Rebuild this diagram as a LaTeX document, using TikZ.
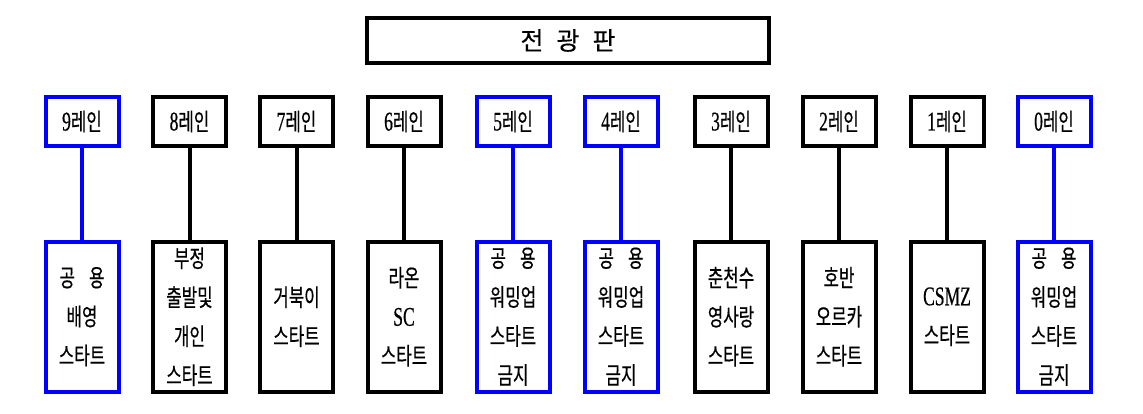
\documentclass[tikz,border=0pt]{standalone}
\usepackage{fontspec}
\newfontfamily\krf{Noto Sans CJK KR}[FakeStretch=0.7,FakeBold=0.5]
\newfontfamily\krt{Noto Sans CJK KR}[FakeBold=0.3]
\newfontfamily\latf{Liberation Serif}[FakeStretch=0.65,FakeBold=0.5]
\newcommand\lt[1]{{\latf\fontsize{27}{39}\selectfont #1}}
\definecolor{kblue}{RGB}{0,0,255}
\begin{document}
\begin{tikzpicture}[x=1pt,y=-1pt,
  lane/.style={draw, line width=4pt, inner sep=0pt, minimum width=73pt, minimum height=49pt, font=\krf\fontsize{24}{39}\selectfont},
  slot/.style={draw, line width=4pt, inner sep=0pt, minimum width=73pt, minimum height=150.5pt, align=center, text width=72pt, font=\krf\fontsize{24}{39}\selectfont},
  bl/.style={draw=kblue},
  lk/.style={line width=4pt}]
\useasboundingbox (0,0) rectangle (1143,413);
\node[draw, line width=4pt, minimum width=402pt, minimum height=45pt, inner sep=0pt, font=\krt\fontsize{25}{30}\selectfont] (title) at (568,40.5) {전\hspace{13pt}광\hspace{13pt}판};
% top lane boxes
\node[lane,bl] (t9) at (82,121.5) {\lt{9}레인};
\node[lane] (t8) at (189.5,121.5) {\lt{8}레인};
\node[lane] (t7) at (296.5,121.5) {\lt{7}레인};
\node[lane] (t6) at (404,121.5) {\lt{6}레인};
\node[lane,bl] (t5) at (513,121.5) {\lt{5}레인};
\node[lane,bl] (t4) at (621,121.5) {\lt{4}레인};
\node[lane] (t3) at (731,121.5) {\lt{3}레인};
\node[lane] (t2) at (839,121.5) {\lt{2}레인};
\node[lane] (t1) at (947,121.5) {\lt{1}레인};
\node[lane,bl] (t0) at (1054,121.5) {\lt{0}레인};
% bottom boxes
\node[slot,bl] (b9) at (82,316.75) {공\hspace{14pt}용\\배영\\스타트};
\node[slot] (b8) at (189.5,316.75) {부정\\출발및\\개인\\스타트};
\node[slot] (b7) at (296.5,316.75) {거북이\\스타트};
\node[slot] (b6) at (404,316.75) {라온\\\lt{SC}\\스타트};
\node[slot,bl] (b5) at (513,316.75) {공\hspace{14pt}용\\워밍업\\스타트\\금지};
\node[slot,bl] (b4) at (621,316.75) {공\hspace{14pt}용\\워밍업\\스타트\\금지};
\node[slot] (b3) at (731,316.75) {춘천수\\영사랑\\스타트};
\node[slot] (b2) at (839,316.75) {호반\\오르카\\스타트};
\node[slot] (b1) at (947,316.75) {\lt{CSMZ}\\스타트};
\node[slot,bl] (b0) at (1054,316.75) {공\hspace{14pt}용\\워밍업\\스타트\\금지};
% connectors
\draw[lk,kblue] (t9) -- (b9);
\draw[lk] (t8) -- (b8);
\draw[lk] (t7) -- (b7);
\draw[lk] (t6) -- (b6);
\draw[lk,kblue] (t5) -- (b5);
\draw[lk,kblue] (t4) -- (b4);
\draw[lk] (t3) -- (b3);
\draw[lk] (t2) -- (b2);
\draw[lk] (t1) -- (b1);
\draw[lk,kblue] (t0) -- (b0);
\end{tikzpicture}
\end{document}
